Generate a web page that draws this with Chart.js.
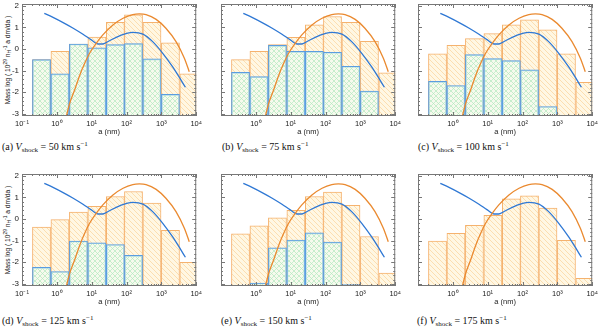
<!DOCTYPE html>
<html>
<head>
<meta charset="utf-8">
<script src="https://cdn.jsdelivr.net/npm/chart.js@4.4.1/dist/chart.umd.min.js"></script>
<style>
  body { margin: 0; width: 600px; height: 327px; background: #fff; position: relative; overflow: hidden; }
  canvas { position: absolute; }
  .cap { position: absolute; font-family: "Liberation Serif", "Times New Roman", serif; font-size: 10px; white-space: nowrap; color: #111; line-height: 12px; }
  .cap sub { font-size: 7px; vertical-align: -2px; }
  .cap sup { font-size: 7px; vertical-align: 4px; }
  .ytitle { position: absolute; font-family: "Liberation Sans", sans-serif; font-size: 6.6px; white-space: nowrap; color: #222;
            transform: translate(-50%, -50%) rotate(-90deg); }
  .ytitle sup { font-size: 5px; vertical-align: 3px; }
  .ytitle sub { font-size: 5px; vertical-align: -1px; }
</style>
</head>
<body>

<div class="ytitle" style="left:7px; top:60px">Mass log ( 10<sup>29</sup> n<sub>H</sub><sup>-1</sup> a dm/da )</div>
<div class="ytitle" style="left:7px; top:230px">Mass log ( 10<sup>29</sup> n<sub>H</sub><sup>-1</sup> a dm/da )</div>

<div class="cap" style="left:2px; top:138px">(a) <i>V</i><sub>shock</sub> = 50 km s<sup>−1</sup></div>
<div class="cap" style="left:222px; top:138px">(b) <i>V</i><sub>shock</sub> = 75 km s<sup>−1</sup></div>
<div class="cap" style="left:418px; top:138px">(c) <i>V</i><sub>shock</sub> = 100 km s<sup>−1</sup></div>
<div class="cap" style="left:2px; top:312px">(d) <i>V</i><sub>shock</sub> = 125 km s<sup>−1</sup></div>
<div class="cap" style="left:221px; top:312px">(e) <i>V</i><sub>shock</sub> = 150 km s<sup>−1</sup></div>
<div class="cap" style="left:417px; top:312px">(f) <i>V</i><sub>shock</sub> = 175 km s<sup>−1</sup></div>

<canvas id="pa" width="205" height="140"></canvas>
<canvas id="pb" width="205" height="140"></canvas>
<canvas id="pc" width="205" height="140"></canvas>
<canvas id="pd" width="205" height="140"></canvas>
<canvas id="pe" width="205" height="140"></canvas>
<canvas id="pf" width="205" height="140"></canvas>

<script>
// size bins, log10(a / nm) of bin centres
var binCentres = [-0.44, 0.09, 0.62, 1.15, 1.68, 2.20, 2.73, 3.26, 3.79];
var xTicks = [-1, 0, 1, 2, 3, 4];
var yTicks = [-3, -2, -1, 0, 1, 2];

// orange histograms (one per shock velocity)
var orange50  = [-0.49, -0.11, 0.23, 0.55, 1.23, 1.58, 1.23, 0.28, -1.15];
var orange75  = [-0.49, -0.11, 0.20, 0.54, 1.12, 1.50, 1.23, 0.35, -1.10];
var orange100 = [-0.22, 0.17, 0.48, 0.71, 1.12, 1.35, 0.89, -0.22, -1.54];
var orange125 = [-0.38, -0.03, 0.32, 0.58, 1.04, 1.27, 0.73, -0.52, -2.00];
var orange150 = [-0.69, -0.32, 0.05, 0.40, 1.04, 1.24, 0.63, -0.81, -2.50];
var orange175 = [-1.02, -0.66, -0.29, 0.17, 0.93, 1.07, 0.50, -0.99, -2.75];

// blue histograms
var blue50  = [-0.49, -1.15, 0.23, 0.05, 0.20, 0.25, -0.46, -2.10, null];
var blue75  = [-1.08, -1.28, 0.17, -0.11, -0.11, -0.15, -0.80, -1.95, null];
var blue100 = [-1.50, -1.69, -0.26, -0.45, -0.54, -0.97, -2.66, null, null];
var blue125 = [-2.24, -2.43, -1.02, -1.10, -1.18, -1.68, null, null, null];
var blue150 = [null, -2.96, -1.33, -0.98, -0.64, -1.07, -3.04, null, null];
var blue175 = [null, null, null, null, null, null, null, null, null];

// the two curves (same in every panel), x = log10(a / nm)
var orangeCurveX = [0.20, 0.37, 0.51, 0.66, 0.80, 0.94, 1.13, 1.32, 1.61, 1.90, 2.18, 2.37, 2.56, 2.85, 3.13, 3.42, 3.66, 3.80];
var orangeCurveY = [-3.60, -2.51, -1.90, -1.20, -0.66, -0.20, 0.26, 0.65, 1.11, 1.42, 1.59, 1.62, 1.59, 1.37, 0.96, 0.34, -0.43, -1.05];
var blueCurveX = [-0.36, -0.11, 0.18, 0.47, 0.75, 0.99, 1.18, 1.32, 1.51, 1.80, 2.18, 2.47, 2.75, 3.04, 3.32, 3.56, 3.69];
var blueCurveY = [1.65, 1.46, 1.22, 0.96, 0.68, 0.42, 0.23, 0.23, 0.38, 0.61, 0.77, 0.69, 0.34, -0.20, -0.82, -1.43, -1.77];

var supers = { '-1': '⁻¹', '0': '⁰', '1': '¹', '2': '²', '3': '³', '4': '⁴' };

// hatch patterns
function makeHatch(bg, line, cross) {
  var c = document.createElement('canvas');
  c.width = 5; c.height = 5;
  var g = c.getContext('2d');
  g.fillStyle = bg;
  g.fillRect(0, 0, 5, 5);
  g.strokeStyle = line;
  g.lineWidth = 0.7;
  g.beginPath();
  g.moveTo(-1, -1); g.lineTo(6, 6);
  g.moveTo(-1, 4); g.lineTo(1, 6);
  g.moveTo(4, -1); g.lineTo(6, 1);
  if (cross) {
    g.moveTo(-1, 6); g.lineTo(6, -1);
    g.moveTo(-1, 1); g.lineTo(1, -1);
    g.moveTo(4, 6); g.lineTo(6, 4);
  }
  g.stroke();
  return g.createPattern(c, 'repeat');
}
var orangeHatch = makeHatch('#fff7e3', '#fbd398', false);
var blueHatch = makeHatch('rgba(240,251,243,0.6)', '#b3eac3', true);

// frame + inward ticks on all four sides
var framePlugin = {
  id: 'frame',
  afterDraw: function(chart) {
    var ctx = chart.ctx, a = chart.chartArea;
    var xs = chart.scales.x, ys = chart.scales.y;
    ctx.save();
    ctx.strokeStyle = '#777';
    ctx.lineWidth = 1;
    ctx.strokeRect(a.left + 0.5, a.top + 0.5, a.width - 1, a.height - 1);
    ctx.beginPath();
    for (var n = -1; n <= 4; n++) {
      for (var k = 1; k <= 9; k++) {
        var v = n + Math.log10(k);
        if (v > 4) break;
        var px = Math.round(xs.getPixelForValue(v)) + 0.5;
        var len = k === 1 ? 4 : 2;
        ctx.moveTo(px, a.bottom); ctx.lineTo(px, a.bottom - len);
        ctx.moveTo(px, a.top); ctx.lineTo(px, a.top + len);
      }
    }
    for (var i = -15; i <= 10; i++) {
      var py = Math.round(ys.getPixelForValue(i * 0.2)) + 0.5;
      var l = i % 5 === 0 ? 4 : 2;
      ctx.moveTo(a.left, py); ctx.lineTo(a.left + l, py);
      ctx.moveTo(a.right, py); ctx.lineTo(a.right - l, py);
    }
    ctx.stroke();
    ctx.restore();
  }
};

function toPoints(xs, ys) {
  return xs.map(function(x, i) { return { x: x, y: ys[i] }; });
}

function makePanel(id, plotLeft, plotTop, orangeVals, blueVals, leftPanel) {
  var el = document.getElementById(id);
  el.style.left = (plotLeft - 22) + 'px';
  el.style.top = (plotTop - 8) + 'px';
  var tickFont = { family: 'Liberation Sans', size: 7.5 };
  new Chart(el.getContext('2d'), {
    type: 'bar',
    data: {
      datasets: [
        {
          type: 'line', data: toPoints(orangeCurveX, orangeCurveY),
          borderColor: '#ea8a30', borderWidth: 1.3, pointRadius: 0,
          cubicInterpolationMode: 'monotone', order: 0
        },
        {
          type: 'line', data: toPoints(blueCurveX, blueCurveY),
          borderColor: '#2f78d4', borderWidth: 1.3, pointRadius: 0,
          cubicInterpolationMode: 'monotone', order: 0
        },
        {
          data: toPoints(binCentres, blueVals), base: -3.5,
          backgroundColor: blueHatch, borderColor: '#5a9de0', borderWidth: 1,
          borderSkipped: false, barPercentage: 1, categoryPercentage: 1, grouped: false, order: 1
        },
        {
          data: toPoints(binCentres, orangeVals), base: -3.5,
          backgroundColor: orangeHatch, borderColor: '#f5b26e', borderWidth: 1,
          borderSkipped: false, barPercentage: 1, categoryPercentage: 1, grouped: false, order: 2
        }
      ]
    },
    options: {
      responsive: false,
      animation: false,
      devicePixelRatio: 1,
      layout: { padding: { top: 8, right: 8, left: 0, bottom: 0 } },
      plugins: { legend: { display: false }, tooltip: { enabled: false } },
      scales: {
        x: {
          type: 'linear', min: -1, max: 4, offset: false,
          grid: { display: false, drawTicks: false }, border: { display: false },
          afterBuildTicks: function(scale) {
            scale.ticks = xTicks.filter(function(t) { return leftPanel || t > -1; })
                                .map(function(t) { return { value: t }; });
          },
          ticks: {
            font: tickFont, color: '#222', padding: 3, maxRotation: 0, autoSkip: false,
            callback: function(v) { return '10' + supers[String(v)]; }
          },
          title: { display: true, text: 'a (nm)', font: tickFont, color: '#222', padding: 0 },
          afterFit: function(scale) { scale.height = 20; }
        },
        y: {
          min: -3.1, max: 2.08,
          grid: { display: false, drawTicks: false }, border: { display: false },
          afterBuildTicks: function(scale) {
            scale.ticks = yTicks.map(function(t) { return { value: t }; });
          },
          ticks: { display: leftPanel, font: { family: 'Liberation Sans', size: 8 }, color: '#222', padding: 3 },
          afterFit: function(scale) { scale.width = 22; }
        }
      }
    },
    plugins: [framePlugin]
  });
}

makePanel('pa', 22, 4, orange50, blue50, true);
makePanel('pb', 221, 4, orange75, blue75, false);
makePanel('pc', 418, 4, orange100, blue100, false);
makePanel('pd', 22, 174, orange125, blue125, true);
makePanel('pe', 221, 174, orange150, blue150, false);
makePanel('pf', 418, 174, orange175, blue175, false);
</script>
</body>
</html>
